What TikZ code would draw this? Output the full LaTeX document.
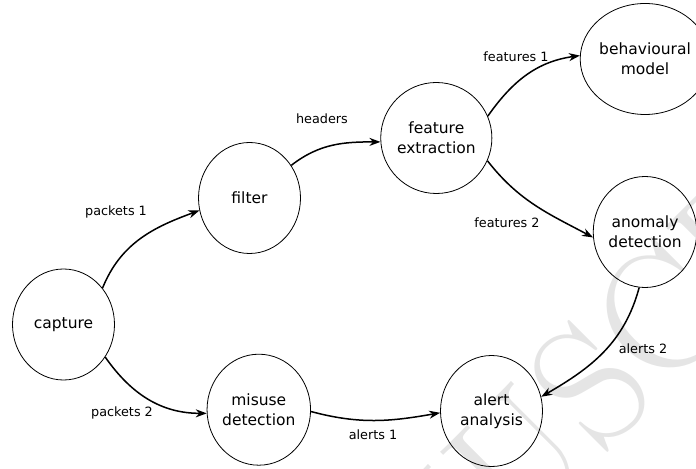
\documentclass[tikz,border=0pt]{standalone}
\usepackage{fontspec}
\newfontfamily\dejavu{DejaVu Sans}
\usetikzlibrary{shapes.geometric,arrows.meta}
\tikzset{
  proc/.style={ellipse,draw,line width=0.8bp,minimum width=102bp,minimum height=111bp,
    inner sep=0pt,align=center,font=\dejavu\fontsize{15.5bp}{20bp}\selectfont},
  flow/.style={line width=1.5bp,-{Stealth[length=11bp,width=8bp,inset=3.5bp]}},
  lbl/.style={font=\dejavu\fontsize{12.8bp}{15bp}\selectfont,inner sep=0pt},
  wm/.style={text=black!10,font=\fontsize{170bp}{170bp}\selectfont,rotate=45,inner sep=0pt}
}
\begin{document}
\begin{tikzpicture}[x=1bp,y=-1bp]
\useasboundingbox (0,0) rectangle (696,469);
\begin{scope}
\clip (0,0) rectangle (696,469);
\node[wm] (wmark) at (592,382) {MANUSCRIPT};
\end{scope}
\node[proc] (capture) at (63.5,324.5) {capture};
\node[proc] (filter) at (249.5,198) {filter};
\node[proc] (feat) at (436.3,138) {feature\\extraction};
\node[proc] (behav) at (645,59) {behavioural\\model};
\node[proc] (anom) at (645,232) {anomaly\\detection};
\node[proc] (alert) at (491.5,411) {alert\\analysis};
\node[proc] (misuse) at (258.8,409.7) {misuse\\detection};

\draw[flow] (capture.43) to[out=68,in=200] (filter.194);
\draw[flow] (capture.-38) to[out=-55,in=180] (misuse.184);
\draw[flow] (filter.38) to[out=38,in=180] (feat.184);
\draw[flow] (feat.23) to[out=55,in=188] (behav.177);
\draw[flow] (feat.-24) to[out=-52,in=152] (anom.186);
\draw[flow] (misuse.-2) to[out=-15,in=190] (alert.182);
\draw[flow] (anom.-96) to[out=-105,in=30] (alert.16);

\node[lbl] (l1) at (116,212) {packets 1};
\node[lbl] (l2) at (122,413) {packets 2};
\node[lbl] (l3) at (322,119) {headers};
\node[lbl] (l4) at (516,57) {features 1};
\node[lbl] (l5) at (507,223) {features 2};
\node[lbl] (l6) at (643,349) {alerts 2};
\node[lbl] (l7) at (373,435) {alerts 1};
\end{tikzpicture}
\end{document}
